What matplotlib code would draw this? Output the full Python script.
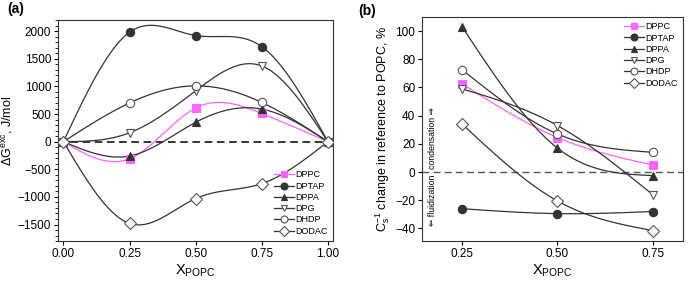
import numpy as np
import matplotlib
matplotlib.use("Agg")
import matplotlib.pyplot as plt
from matplotlib.ticker import AutoMinorLocator, MultipleLocator

plt.rcParams['font.family'] = ['Liberation Sans', 'DejaVu Sans']
plt.rcParams['mathtext.default'] = 'regular'
plt.rcParams['font.size'] = 8.5

# data
names = ['DPPC', 'DPTAP', 'DPPA', 'DPG', 'DHDP', 'DODAC']
x_a = [0.0, 0.25, 0.5, 0.75, 1.0]
dg_dppc = [0, -310, 610, 510, 0]
dg_dptap = [0, 1980, 1920, 1720, 0]
dg_dppa = [0, -260, 350, 590, 0]
dg_dpg = [0, 160, 920, 1370, 0]
dg_dhdp = [0, 700, 1010, 710, 0]
dg_dodac = [0, -1480, -1030, -760, 0]

x_b = [0.25, 0.5, 0.75]
cs_dppc = [62.5, 24.5, 5]
cs_dptap = [-26, -29.5, -28]
cs_dppa = [103, 17, -2.5]
cs_dpg = [59, 33, -16]
cs_dhdp = [72.5, 27, 14]
cs_dodac = [34, -20.5, -41.5]

styles = [
    dict(color='#ff66ff', marker='s', mfc='#ff66ff', mec='#ff66ff'),
    dict(color='#333333', marker='o', mfc='#333333', mec='#333333'),
    dict(color='#333333', marker='^', mfc='#333333', mec='#333333'),
    dict(color='#333333', marker='v', mfc='white', mec='#555555'),
    dict(color='#333333', marker='o', mfc='white', mec='#555555'),
    dict(color='#333333', marker='D', mfc='white', mec='#555555'),
]


def spline(x, y, n=200):
    # natural cubic spline through the points
    x = np.asarray(x, float)
    y = np.asarray(y, float)
    k = len(x)
    h = np.diff(x)
    A = np.zeros((k, k))
    r = np.zeros(k)
    A[0, 0] = A[-1, -1] = 1
    for i in range(1, k - 1):
        A[i, i - 1] = h[i - 1]
        A[i, i] = 2 * (h[i - 1] + h[i])
        A[i, i + 1] = h[i]
        r[i] = 6 * ((y[i + 1] - y[i]) / h[i] - (y[i] - y[i - 1]) / h[i - 1])
    m = np.linalg.solve(A, r)
    xs = np.linspace(x[0], x[-1], n)
    idx = np.clip(np.searchsorted(x, xs) - 1, 0, k - 2)
    x0, x1 = x[idx], x[idx + 1]
    hh = x1 - x0
    t1 = x1 - xs
    t0 = xs - x0
    ys = (m[idx] * t1**3 + m[idx + 1] * t0**3) / (6 * hh) \
        + (y[idx] / hh - m[idx] * hh / 6) * t1 \
        + (y[idx + 1] / hh - m[idx + 1] * hh / 6) * t0
    return xs, ys


fig = plt.figure(figsize=(7, 2.83), dpi=100)
ax1 = fig.add_axes([0.083, 0.148, 0.393, 0.781])
ax2 = fig.add_axes([0.603, 0.148, 0.373, 0.792])

# panel (a)
ax1.axhline(0, color='black', ls=(0, (5, 3)), lw=1.1, zorder=1)
for name, vals, st in zip(names, [dg_dppc, dg_dptap, dg_dppa, dg_dpg, dg_dhdp, dg_dodac], styles):
    xs, ys = spline(x_a, vals)
    ax1.plot(xs, ys, color=st['color'], lw=0.9, zorder=2)
    ax1.plot(x_a, vals, ls='none', marker=st['marker'], ms=6, mfc=st['mfc'],
             mec=st['mec'], mew=0.8, zorder=3)
    ax1.plot([], [], color=st['color'], lw=0.9, marker=st['marker'], ms=5,
             mfc=st['mfc'], mec=st['mec'], mew=0.8, label=name)
ax1.set_xlim(-0.02, 1.02)
ax1.set_ylim(-1800, 2200)
ax1.set_xticks([0, 0.25, 0.5, 0.75, 1.0])
ax1.set_xticklabels(['0.00', '0.25', '0.50', '0.75', '1.00'])
ax1.yaxis.set_major_locator(MultipleLocator(500))
ax1.yaxis.set_minor_locator(AutoMinorLocator(5))
ax1.set_yticks([-1500, -1000, -500, 0, 500, 1000, 1500, 2000])
ax1.set_yticklabels(['\u22121500', '\u22121000', '\u2212500', '0', '500', '1000', '1500', '2000'])
ax1.set_xlabel('X$_{POPC}$', fontsize=10.5, labelpad=2)
ax1.set_ylabel('\u0394G$^{exc}$, J/mol', fontsize=9, labelpad=2)
ax1.legend(loc='lower right', frameon=False, fontsize=6.5, handlelength=2.2,
           handletextpad=0.2, labelspacing=0.25, borderaxespad=0.2)
ax1.text(-0.185, 1.03, '(a)', transform=ax1.transAxes, fontsize=10, fontweight='bold')

# panel (b)
ax2.axhline(0, color='#555555', ls=(0, (5, 3)), lw=1.0, zorder=1)
for name, vals, st in zip(names, [cs_dppc, cs_dptap, cs_dppa, cs_dpg, cs_dhdp, cs_dodac], styles):
    xs, ys = spline(x_b, vals)
    ax2.plot(xs, ys, color=st['color'], lw=0.9, zorder=2)
    ax2.plot(x_b, vals, ls='none', marker=st['marker'], ms=6, mfc=st['mfc'],
             mec=st['mec'], mew=0.8, zorder=3)
    ax2.plot([], [], color=st['color'], lw=0.9, marker=st['marker'], ms=5,
             mfc=st['mfc'], mec=st['mec'], mew=0.8, label=name)
ax2.set_xlim(0.145, 0.83)
ax2.set_ylim(-49, 110)
ax2.set_xticks([0.25, 0.5, 0.75])
ax2.set_xticklabels(['0.25', '0.50', '0.75'])
ax2.set_yticks([-40, -20, 0, 20, 40, 60, 80, 100])
ax2.set_yticklabels(['\u221240', '\u221220', '0', '20', '40', '60', '80', '100'])
ax2.set_xlabel('X$_{POPC}$', fontsize=10.5, labelpad=2)
ax2.set_ylabel('C$_s^{-1}$ change in reference to POPC, %', fontsize=9, labelpad=2)
ax2.legend(loc='upper right', frameon=False, fontsize=6.5, handlelength=2.2,
           handletextpad=0.2, labelspacing=0.25, borderaxespad=0.2)
ax2.text(0.172, 2, 'condensation \u21d2', rotation=90, fontsize=6.3,
         ha='center', va='bottom')
ax2.text(0.172, -2, '\u21d0 fluidization', rotation=90, fontsize=6.3,
         ha='center', va='top')
ax2.text(-0.245, 1.01, '(b)', transform=ax2.transAxes, fontsize=10, fontweight='bold')

for ax in (ax1, ax2):
    ax.tick_params(direction='out', length=3, width=0.8, pad=2)
    ax.tick_params(which='minor', length=2, width=0.6)
    for s in ax.spines.values():
        s.set_linewidth(0.8)
        s.set_color('#333333')

fig.savefig('out.png', dpi=100)
